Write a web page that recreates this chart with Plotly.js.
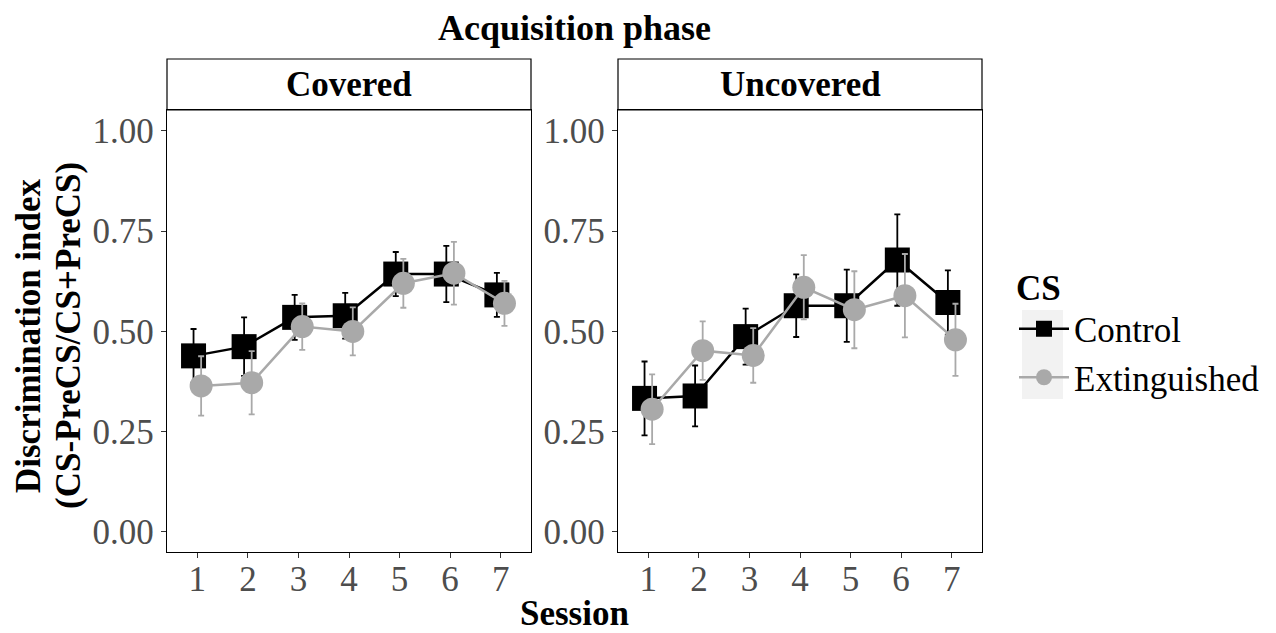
<!DOCTYPE html>
<html>
<head>
<meta charset="utf-8">
<script src="https://cdn.plot.ly/plotly-3.0.1.min.js"></script>
<style>html,body{margin:0;padding:0;background:#fff;}</style>
</head>
<body>
<div id="chart" style="width:1276px;height:633px;"></div>
<script>
// ---- data ----
const sessions = [1, 2, 3, 4, 5, 6, 7];
const coveredControl     = [0.439, 0.462, 0.535, 0.539, 0.643, 0.643, 0.591];
const coveredControlSE   = [0.067, 0.073, 0.056, 0.057, 0.055, 0.070, 0.055];
const coveredExt         = [0.364, 0.372, 0.512, 0.500, 0.620, 0.645, 0.570];
const coveredExtSE       = [0.074, 0.079, 0.058, 0.060, 0.061, 0.078, 0.056];
const uncoveredControl   = [0.333, 0.339, 0.487, 0.564, 0.564, 0.678, 0.572];
const uncoveredControlSE = [0.092, 0.076, 0.070, 0.078, 0.090, 0.114, 0.080];
const uncoveredExt       = [0.306, 0.452, 0.440, 0.610, 0.554, 0.589, 0.479];
const uncoveredExtSE     = [0.087, 0.073, 0.068, 0.080, 0.096, 0.104, 0.090];
const yTicks = [0, 0.25, 0.5, 0.75, 1];
const yTickText = ['0.00', '0.25', '0.50', '0.75', '1.00'];
const panelTitles = ['Covered', 'Uncovered'];
const groupNames = ['Control', 'Extinguished'];

// ---- style ----
const W = 1276, H = 633;
const px = v => v / W;
const py = v => 1 - v / H;
const FONT = 'Liberation Serif, Times New Roman, serif';
const BLACK = '#000000', GREY = '#A9A9A9';
const dodge = 0.075;

function series(y, se, name, color, symbol, size, xa, ya, showlegend, shift) {
  return {
    type: 'scatter', mode: 'lines+markers', name: name, legendgroup: name,
    showlegend: showlegend,
    x: sessions.map(s => s + shift), y: y,
    xaxis: xa, yaxis: ya,
    line: {color: color, width: 2.5},
    marker: {color: color, symbol: symbol, size: size, line: {width: 0}},
    error_y: {type: 'data', array: se, visible: true, color: color, thickness: 1.8, width: 3}
  };
}

const data = [
  series(coveredControl, coveredControlSE, groupNames[0], BLACK, 'square', 25, 'x', 'y', true, -dodge),
  series(uncoveredControl, uncoveredControlSE, groupNames[0], BLACK, 'square', 25, 'x2', 'y2', false, -dodge),
  series(coveredExt, coveredExtSE, groupNames[1], GREY, 'circle', 23, 'x', 'y', true, dodge),
  series(uncoveredExt, uncoveredExtSE, groupNames[1], GREY, 'circle', 23, 'x2', 'y2', false, dodge)
];

const xBase = {
  range: [0.4, 7.6], tickvals: sessions, ticktext: sessions.map(String),
  ticks: 'outside', ticklen: 5, tickwidth: 1, tickcolor: '#333333',
  showline: true, mirror: true, linecolor: BLACK, linewidth: 1.2,
  showgrid: false, zeroline: false, automargin: false,
  ticklabelstandoff: -9,
  tickfont: {family: FONT, size: 35, color: '#4D4D4D'}
};
const yBase = {
  range: [-0.05, 1.052], tickvals: yTicks, ticktext: yTickText,
  ticks: 'outside', ticklen: 5, tickwidth: 1, tickcolor: '#333333',
  showline: true, mirror: true, linecolor: BLACK, linewidth: 1.2,
  showgrid: false, zeroline: false, automargin: false,
  domain: [py(552), py(110)],
  tickfont: {family: FONT, size: 35, color: '#4D4D4D'}
};

const panels = [[167, 531], [618, 982]];

const layout = {
  width: W, height: H,
  margin: {l: 0, r: 0, t: 0, b: 0},
  paper_bgcolor: '#ffffff', plot_bgcolor: '#ffffff',
  font: {family: FONT, color: BLACK},
  xaxis: Object.assign({}, xBase, {domain: [px(panels[0][0]), px(panels[0][1])], anchor: 'y'}),
  xaxis2: Object.assign({}, xBase, {domain: [px(panels[1][0]), px(panels[1][1])], anchor: 'y2'}),
  yaxis: Object.assign({}, yBase, {anchor: 'x'}),
  yaxis2: Object.assign({}, yBase, {anchor: 'x2', matches: 'y'}),
  showlegend: true,
  legend: {
    x: px(1014), y: py(254), xanchor: 'left', yanchor: 'top',
    bgcolor: 'rgba(0,0,0,0)', borderwidth: 0,
    font: {family: FONT, size: 35, color: BLACK},
    title: {text: '<b>CS</b>', font: {family: FONT, size: 35, color: BLACK}},
    tracegroupgap: 0, itemsizing: 'trace', itemwidth: 50
  },
  shapes: [
    ...panels.map(p => ({
      type: 'rect', xref: 'paper', yref: 'paper', layer: 'above',
      x0: px(p[0]), x1: px(p[1]), y0: py(110), y1: py(59),
      line: {color: BLACK, width: 1.2}, fillcolor: 'rgba(0,0,0,0)'
    })),
    {type: 'rect', xref: 'paper', yref: 'paper', layer: 'below',
     x0: px(1022), x1: px(1063), y0: py(399), y1: py(310),
     line: {width: 0}, fillcolor: '#F2F2F2'}
  ],
  annotations: [
    {text: '<b>Acquisition phase</b>', xref: 'paper', yref: 'paper', x: px(574.5), y: py(28),
     xanchor: 'center', yanchor: 'middle', showarrow: false, font: {family: FONT, size: 36, color: BLACK}},
    ...panels.map((p, i) => ({
      text: '<b>' + panelTitles[i] + '</b>', xref: 'paper', yref: 'paper',
      x: px((p[0] + p[1]) / 2), y: py(85), xanchor: 'center', yanchor: 'middle',
      showarrow: false, font: {family: FONT, size: 35, color: BLACK}
    })),
    {text: '<b>Session</b>', xref: 'paper', yref: 'paper', x: px(574.5), y: py(613),
     xanchor: 'center', yanchor: 'middle', showarrow: false, font: {family: FONT, size: 35, color: BLACK}},
    {text: '<b>Discrimination index</b>', xref: 'paper', yref: 'paper', x: px(28), y: py(336),
     xanchor: 'center', yanchor: 'middle', textangle: -90, showarrow: false,
     font: {family: FONT, size: 35, color: BLACK}},
    {text: '<b>(CS-PreCS/CS+PreCS)</b>', xref: 'paper', yref: 'paper', x: px(68), y: py(336),
     xanchor: 'center', yanchor: 'middle', textangle: -90, showarrow: false,
     font: {family: FONT, size: 35, color: BLACK}}
  ]
};

Plotly.newPlot('chart', data, layout, {displayModeBar: false, staticPlot: true});
</script>
</body>
</html>
